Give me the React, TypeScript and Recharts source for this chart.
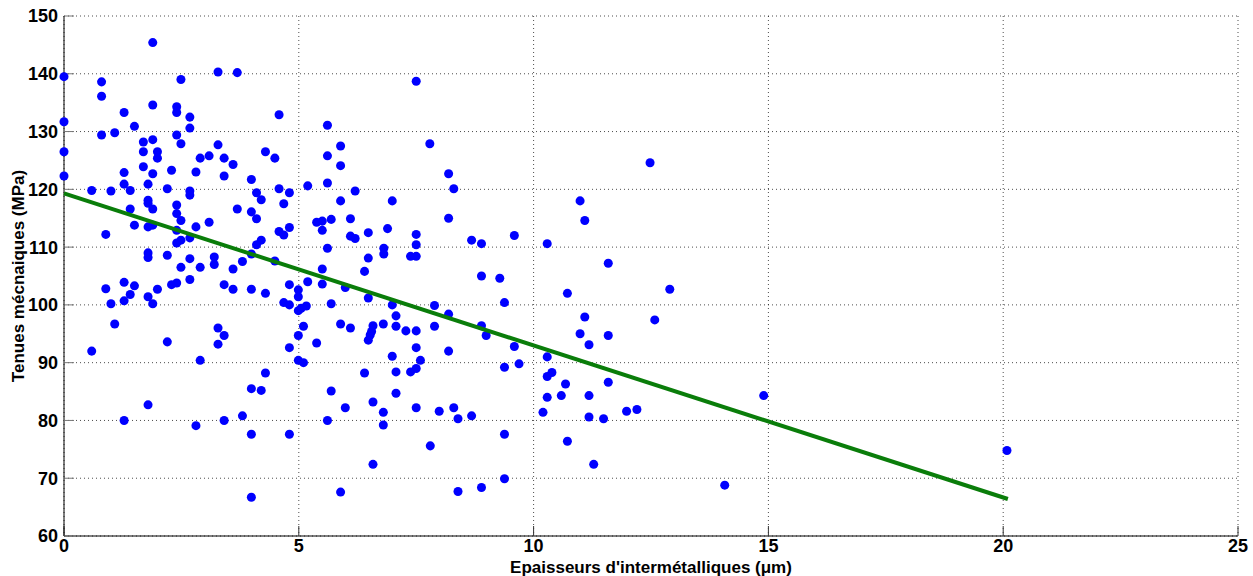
import React from 'react';
import { ScatterChart, Scatter, XAxis, YAxis, ZAxis, CartesianGrid, Label } from 'recharts';

// [épaisseur (µm), tenue (MPa)]
const measurements: [number, number][] = [
  // x 0 - 3.5, upper half
  [1.89, 145.4], [0, 139.5], [0.8, 138.6], [0.8, 136.1], [2.49, 139.0], [3.28, 140.3], [1.89, 134.6],
  [1.28, 133.3], [2.4, 134.3], [2.4, 133.3], [2.68, 132.5], [2.68, 130.6], [0, 131.7], [1.5, 130.9],
  [0.8, 129.4], [1.08, 129.8], [1.69, 128.2], [1.89, 128.6], [2.4, 129.4], [2.49, 127.9], [3.28, 127.7],
  [0, 126.5], [1.69, 126.5], [1.99, 126.5], [1.99, 125.4], [2.9, 125.4], [3.09, 125.8], [3.41, 125.4],
  [0, 122.3], [1.28, 122.9], [1.69, 123.9], [1.89, 122.7], [2.29, 123.3], [2.81, 123.0], [3.41, 122.3],
  [1.28, 120.9], [1.79, 120.9], [0.59, 119.8], [1.0, 119.7], [1.41, 119.8], [2.2, 120.1], [2.68, 119.7],
  [2.68, 119.0], [1.79, 118.1], [1.79, 117.6], [1.89, 116.6], [1.41, 116.6], [2.4, 117.3], [2.4, 115.8],
  [2.49, 114.6], [1.5, 113.8], [1.79, 113.5], [1.89, 113.8], [3.09, 114.3], [2.81, 113.5], [0.89, 112.2],
  [2.4, 112.9], [2.49, 111.2], [2.4, 110.7], [2.68, 111.6], [1.79, 109.0], [1.79, 108.2], [2.2, 108.6],
  [2.68, 108.0], [3.2, 108.3], [3.2, 107.0], [2.9, 106.5], [2.49, 106.5],
  // x 0 - 3.5, lower half
  [0.89, 102.8], [1.28, 103.9], [1.5, 103.3], [1.41, 101.8], [1.28, 100.7], [1.0, 100.2], [1.79, 101.4],
  [1.89, 100.2], [1.99, 102.7], [2.29, 103.5], [2.4, 103.8], [2.68, 104.4], [3.41, 103.5], [1.08, 96.7],
  [0.59, 92.0], [2.2, 93.6], [3.28, 96.0], [3.41, 94.7], [3.28, 93.2], [2.9, 90.4], [1.79, 82.7],
  [1.28, 80.0], [2.81, 79.1], [3.41, 80.0],
  // x 3.5 - 7, upper half
  [3.69, 140.2], [4.58, 132.9], [5.61, 131.1], [4.29, 126.5], [4.49, 125.4], [3.6, 124.3], [3.99, 121.7],
  [5.89, 127.5], [5.61, 125.8], [5.89, 124.1], [5.61, 121.1], [5.19, 120.6], [4.58, 120.1], [4.8, 119.4],
  [4.1, 119.4], [4.2, 118.2], [6.2, 119.7], [5.89, 118.0], [6.99, 118.0], [4.68, 117.5], [3.69, 116.6],
  [3.99, 116.1], [4.1, 114.9], [5.38, 114.3], [5.5, 114.5], [5.69, 114.8], [6.1, 114.9], [5.5, 112.9],
  [4.8, 113.4], [4.58, 112.7], [4.68, 112.1], [6.1, 111.9], [6.2, 111.5], [6.48, 112.5], [6.89, 113.2],
  [4.2, 111.2], [4.1, 110.4], [3.99, 108.8], [5.61, 109.8], [6.81, 109.8], [6.81, 108.8], [6.48, 108.1],
  [4.49, 107.6], [3.6, 106.2], [3.8, 107.5], [5.5, 106.2], [6.4, 105.8],
  // x 3.5 - 7, lower half
  [5.19, 104.0], [3.6, 102.7], [3.99, 102.7], [4.29, 102.0], [4.8, 103.5], [4.99, 102.6], [4.99, 101.4],
  [5.5, 103.6], [5.99, 103.0], [4.68, 100.4], [4.8, 100.0], [4.99, 99.0], [5.05, 99.4], [5.16, 99.8],
  [5.69, 100.2], [6.48, 101.2], [6.99, 100.0], [7.07, 98.1], [7.07, 96.3], [5.1, 96.3], [4.99, 94.7],
  [5.89, 96.7], [6.1, 96.0], [6.58, 96.4], [6.55, 95.4], [6.52, 94.8], [6.48, 93.9], [6.8, 96.7],
  [5.38, 93.4], [4.8, 92.6], [4.99, 90.4], [5.1, 90.0], [6.99, 91.1], [7.07, 88.4], [7.07, 84.7],
  [6.4, 88.2], [4.29, 88.2], [3.99, 85.5], [4.2, 85.2], [5.69, 85.1], [5.99, 82.2], [6.58, 83.2],
  [6.8, 81.4], [6.8, 79.2], [3.8, 80.8], [5.61, 80.0], [3.99, 77.6], [4.8, 77.6], [6.58, 72.4],
  [3.99, 66.7], [5.89, 67.6],
  // x 7 - 10.5
  [7.5, 138.7], [7.79, 127.9], [8.19, 122.7], [8.3, 120.1], [8.19, 115.0], [7.5, 112.2], [7.5, 110.4],
  [7.38, 108.4], [7.5, 108.4], [8.68, 111.2], [8.89, 110.6], [9.59, 112.0], [10.29, 110.6], [8.89, 105.0],
  [9.28, 104.6], [7.28, 95.5], [7.5, 95.5], [7.5, 92.6], [7.59, 90.4], [7.38, 88.4], [7.5, 89.0],
  [7.89, 99.9], [7.89, 96.3], [8.19, 98.4], [8.19, 92.0], [8.89, 96.4], [8.99, 94.7], [9.38, 100.4],
  [9.59, 92.8], [9.69, 89.8], [9.38, 89.2], [10.29, 91.0], [10.29, 87.6], [10.39, 88.3], [10.68, 86.3],
  [10.59, 84.3], [10.29, 84.0], [10.2, 81.4], [10.72, 102.0], [10.72, 76.4], [7.5, 82.2], [7.99, 81.6],
  [8.3, 82.2], [8.39, 80.3], [8.68, 80.8], [9.38, 77.6], [7.8, 75.6], [9.38, 69.9], [8.89, 68.4],
  [8.39, 67.7],
  // x > 10.5
  [12.48, 124.6], [10.99, 118.0], [11.09, 114.6], [11.59, 107.2], [12.9, 102.7], [11.09, 97.9],
  [10.99, 95.0], [11.59, 94.7], [11.18, 93.1], [12.58, 97.4], [11.59, 86.6], [11.18, 84.3], [11.18, 80.6],
  [11.49, 80.3], [11.98, 81.6], [12.2, 81.9], [11.28, 72.4], [14.07, 68.8], [14.9, 84.3], [20.08, 74.8],
];

// droite de régression
const fitThickness = [0, 20.1];
const fitStrength = [119.3, 66.4];

const xTicks = [0, 5, 10, 15, 20, 25];
const yTicks = [60, 70, 80, 90, 100, 110, 120, 130, 140, 150];

const points = measurements.map(([x, y]) => ({ x, y }));
const fitLine = fitThickness.map((x, i) => ({ x, y: fitStrength[i] }));

const font = 'Liberation Sans, Arial, sans-serif';
const tickStyle = { fontFamily: font, fontSize: 18, fontWeight: 700, fill: '#000' };
const labelStyle = { fontFamily: font, fontSize: 17, fontWeight: 700, fill: '#000' };

export default function App() {
  return (
    <div style={{ position: 'absolute', left: 0, top: 0, width: 1253, height: 576, background: '#fff' }}>
      <ScatterChart width={1253} height={576} margin={{ top: 16, right: 15, bottom: 0, left: 0 }}>
        <CartesianGrid stroke="#000" strokeDasharray="1 3" strokeOpacity={0.7} />
        <XAxis
          type="number"
          dataKey="x"
          domain={[0, 25]}
          ticks={xTicks}
          height={40}
          stroke="#000"
          tickSize={-10}
          tickMargin={13}
          tickLine={{ stroke: '#333' }}
          tick={tickStyle}
          interval={0}
        >
          <Label value="Epaisseurs d'intermétalliques (μm)" position="insideBottom" offset={3} style={labelStyle} />
        </XAxis>
        <YAxis
          type="number"
          dataKey="y"
          domain={[60, 150]}
          ticks={yTicks}
          width={64}
          stroke="#000"
          tickSize={-10}
          tickMargin={16}
          tickLine={{ stroke: '#777' }}
          tick={tickStyle}
          interval={0}
        >
          <Label
            value="Tenues mécnaiques (MPa)"
            angle={-90}
            position="insideLeft"
            offset={18}
            style={{ ...labelStyle, textAnchor: 'middle' }}
          />
        </YAxis>
        <ZAxis range={[60, 60]} />
        <Scatter data={points} fill="#0000ff" isAnimationActive={false} />
        <Scatter
          data={fitLine}
          line={{ stroke: '#0a7d0a', strokeWidth: 4 }}
          shape={() => <g />}
          isAnimationActive={false}
        />
      </ScatterChart>
    </div>
  );
}
